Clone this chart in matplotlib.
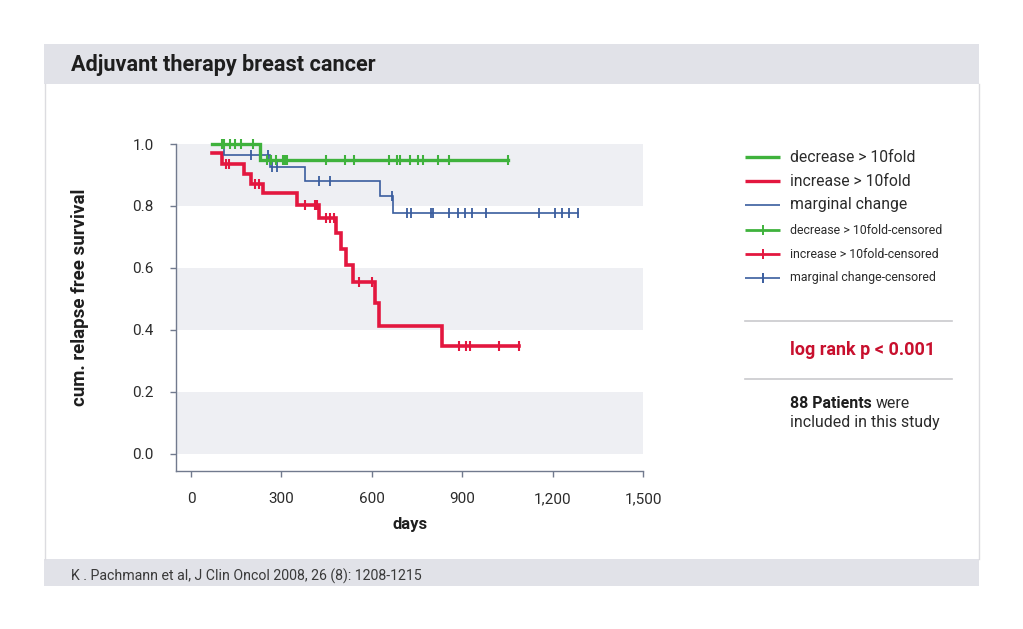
import numpy as np
import matplotlib
matplotlib.use("Agg")
import matplotlib.pyplot as plt

plt.rcParams['font.family'] = ['Roboto', 'DejaVu Sans']

# ---------------- data ----------------
title = "Adjuvant therapy breast cancer"
source = "K . Pachmann et al, J Clin Oncol 2008, 26 (8): 1208-1215"
x_label = "days"
y_label = "cum. relapse free survival"
x_ticks = [0, 300, 600, 900, 1200, 1500]
x_tick_labels = ["0", "300", "600", "900", "1,200", "1,500"]
y_ticks = [0.0, 0.2, 0.4, 0.6, 0.8, 1.0]
y_tick_labels = ["0.0", "0.2", "0.4", "0.6", "0.8", "1.0"]

series_names = ["decrease > 10fold", "increase > 10fold", "marginal change"]

# decrease > 10fold
dec_times = [69, 229, 1051]
dec_surv = [1.000, 0.948, 0.948]
dec_censor = [102, 110, 129, 146, 165, 205, 253, 264, 281, 304, 311, 318,
              447, 511, 541, 657, 685, 694, 727, 754, 771, 819, 857, 1051]

# increase > 10fold
inc_times = [69, 102, 177, 198, 240, 351, 423, 481, 498, 514, 537, 611, 625, 834, 1089]
inc_surv = [0.970, 0.936, 0.903, 0.872, 0.841, 0.803, 0.760, 0.712, 0.660,
            0.610, 0.556, 0.486, 0.414, 0.347, 0.347]
inc_censor = [116, 127, 212, 226, 378, 412, 419, 448, 461, 475, 558, 600,
              890, 913, 926, 1022, 1089]

# marginal change
mar_times = [69, 110, 263, 378, 627, 669, 1284]
mar_surv = [1.000, 0.963, 0.926, 0.881, 0.832, 0.777, 0.777]
mar_censor = [200, 257, 268, 284, 425, 461, 666, 718, 730, 797, 804, 856,
              885, 909, 934, 978, 1155, 1208, 1230, 1256, 1284]

p_text = "log rank p < 0.001"
n_patients_bold = "88 Patients"

# ---------------- style ----------------
GREEN = '#3fb23c'
RED = '#e3173f'
BLUE = '#3a5d9e'
BAND = '#eeeff3'
BAR = '#e1e2e8'
SPINE = '#717a8e'
TXT = '#2b2b2b'

W, H = 1023, 629
fig = plt.figure(figsize=(W / 100, H / 100), dpi=100)
fig.patch.set_facecolor('white')

# background overlay in pixel coordinates
bg = fig.add_axes([0, 0, 1, 1], zorder=0)
bg.set_xlim(0, W)
bg.set_ylim(H, 0)
bg.axis('off')
bg.add_patch(plt.Rectangle((44, 44), 935, 40, color=BAR, lw=0))
bg.add_patch(plt.Rectangle((44, 559), 935, 27, color=BAR, lw=0))
bg.plot([44.5, 44.5], [84, 559], color='#dcdce0', lw=1)
bg.plot([978.5, 978.5], [84, 559], color='#dcdce0', lw=1)
bg.text(71, 65, title, fontsize=15.6, fontweight='bold', color='#1e1e1e',
        ha='left', va='center')
bg.text(71, 576, source, fontsize=10.2, color='#3a3a3a', ha='left', va='center')

# legend (manual)
leg_y = [157, 181, 205, 230, 254, 278]
leg_cols = [GREEN, RED, BLUE, GREEN, RED, BLUE]
leg_lw = [2.4, 2.4, 1.2, 2.0, 2.0, 1.2]
leg_txt = series_names + [s + "-censored" for s in series_names]
for i, (yy, c, lw, t) in enumerate(zip(leg_y, leg_cols, leg_lw, leg_txt)):
    bg.plot([745, 780], [yy, yy], color=c, lw=lw, solid_capstyle='butt')
    if i >= 3:
        bg.plot([762.5], [yy], marker='|', color=c, ms=7, mew=1.4)
    bg.text(790, yy, t, fontsize=11.3 if i < 3 else 8.9, color=TXT,
            ha='left', va='center')

bg.plot([745, 952], [321, 321], color='#c9c9cd', lw=1.2)
bg.plot([745, 952], [379, 379], color='#c9c9cd', lw=1.2)
bg.text(935, 350, p_text, fontsize=13, fontweight='bold', color='#c8102e',
        ha='right', va='center')
t1 = bg.text(790, 403, n_patients_bold, fontsize=11.4, fontweight='bold',
             color='#1e1e1e', ha='left', va='center')
fig.canvas.draw()
bb = t1.get_window_extent()
x_end = bb.x1 + 4
bg.text(x_end, 403, "were", fontsize=11.4, color=TXT, ha='left', va='center')
bg.text(790, 422, "included in this study", fontsize=11.4, color=TXT,
        ha='left', va='center')

# ---------------- main chart ----------------
ax = fig.add_axes([176 / W, 1 - 471 / H, (643 - 176) / W, (471 - 144) / H], zorder=1)
ax.set_facecolor('none')
ax.set_xlim(-50, 1500)
ax.set_ylim(-0.055, 1.0)

for lo, hi in [(0.0, 0.2), (0.4, 0.6), (0.8, 1.0)]:
    ax.axhspan(lo, hi, xmin=0, xmax=1, color=BAND, lw=0, zorder=0)


def level_at(times, surv, t):
    idx = np.searchsorted(times, t, side='right') - 1
    idx = np.clip(idx, 0, len(surv) - 1)
    return np.asarray(surv)[idx]


curves = [
    (inc_times, inc_surv, inc_censor, RED, 2.6, 3),
    (mar_times, mar_surv, mar_censor, BLUE, 1.2, 4),
    (dec_times, dec_surv, dec_censor, GREEN, 2.4, 5),
]
for times, surv, cens, col, lw, z in curves:
    ax.step(times, surv, where='post', color=col, lw=lw, zorder=z,
            clip_on=False, solid_joinstyle='miter')
    cy = level_at(np.asarray(times), surv, np.asarray(cens))
    ax.plot(cens, cy, ls='none', marker='|', color=col, ms=7,
            mew=1.5 if lw > 2 else 1.3, zorder=z, clip_on=False)

for s in ['top', 'right']:
    ax.spines[s].set_visible(False)
for s in ['left', 'bottom']:
    ax.spines[s].set_color(SPINE)
    ax.spines[s].set_linewidth(1.0)

ax.set_xticks(x_ticks)
ax.set_xticklabels(x_tick_labels)
ax.set_yticks(y_ticks)
ax.set_yticklabels(y_tick_labels)
ax.tick_params(axis='both', colors=SPINE, length=4, width=1.0, direction='out',
               labelsize=11, labelcolor=TXT)
ax.tick_params(axis='x', pad=11)
ax.tick_params(axis='y', pad=12)

ax.set_xlabel(x_label, fontsize=12, fontweight='bold', color='#1e1e1e')
ax.xaxis.set_label_coords(0.501, -0.165)
ax.xaxis.label.set_va('center')
ax.set_ylabel(y_label, fontsize=13.5, fontweight='bold', color='#1e1e1e')
ax.yaxis.set_label_coords(-0.206, 0.532)
ax.yaxis.label.set_va('center')
ax.yaxis.label.set_ha('center')

fig.savefig('out.png', dpi=100, facecolor='white')
